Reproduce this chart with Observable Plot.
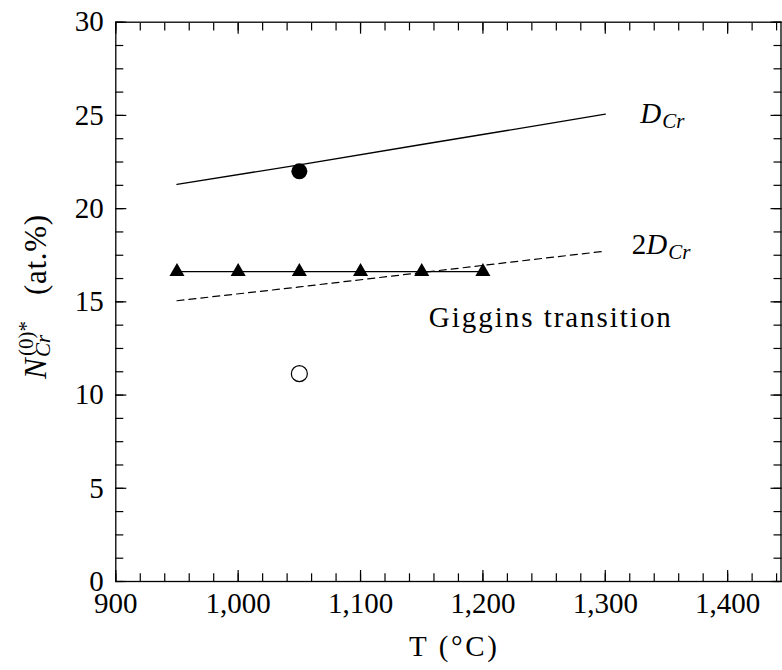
<!DOCTYPE html>
<html><head><meta charset="utf-8">
<script src="https://cdn.jsdelivr.net/npm/d3@7"></script>
<script src="https://cdn.jsdelivr.net/npm/@observablehq/plot@0.6"></script>
<style>
body{margin:0;background:#fff}
svg{display:block}
#chart svg, #chart svg text { font-family: "Liberation Serif", "DejaVu Serif", serif !important; }
</style>
</head><body><div id="chart"></div>
<script>
// D_Cr curve (solid)
const dcrT = [950, 1050, 1150, 1250, 1300];
const dcrN = [21.30, 22.35, 23.44, 24.52, 25.07];
// 2D_Cr curve (dashed)
const d2crT = [950, 1050, 1150, 1250, 1300];
const d2crN = [15.06, 15.80, 16.57, 17.34, 17.72];
// Giggins transition (triangles)
const gigT = [950, 1000, 1050, 1100, 1150, 1200];
const gigN = [16.62, 16.62, 16.62, 16.62, 16.62, 16.62];
// single points
const filledT = [1050];
const filledN = [22.0];
const openT = [1050];
const openN = [11.15];
// ticks
const xMajor = [900, 1000, 1100, 1200, 1300, 1400];
const xMinor = d3.range(900, 1441, 20);
const yMajor = [0, 5, 10, 15, 20, 25, 30];
const yMinor = d3.range(0, 30.01, 1.25);
// labels
const curveLabels = [
  {t: 1329, n: 24.57, pre: "", main: "D", sub: "Cr"},
  {t: 1322, n: 17.54, pre: "2", main: "D", sub: "Cr"}
];
const noteT = [1254.7];
const noteN = [14.14];
const noteText = ["Giggins transition"];
const xTitle = "T (°C)";
const yTitle = {main: "N", sub: "Cr", sup: "(0)*", unit: "(at.%)"};

const rows = (T, N) => T.map((t, i) => ({t, n: N[i]}));
const blank = () => "";
const FONT = "'Liberation Serif', 'DejaVu Serif', serif";

const plot = Plot.plot({
  width: 782,
  height: 670,
  marginLeft: 115.3,
  marginRight: 1.5,
  marginTop: 21.7,
  marginBottom: 89,
  style: {fontFamily: FONT, fontSize: "29px", color: "black", background: "white"},
  x: {domain: [900, 1443.6]},
  y: {domain: [0, 30]},
  marks: [
    Plot.axisX(xMinor, {anchor: "bottom", tickSize: -7.7, tickFormat: blank, label: null, strokeWidth: 1.2}),
    Plot.axisX(xMajor, {anchor: "bottom", tickSize: -11, tickFormat: blank, label: null, strokeWidth: 1.2}),
    Plot.axisX(xMinor, {anchor: "top", tickSize: -7.7, tickFormat: blank, label: null, strokeWidth: 1.2}),
    Plot.axisX(xMajor, {anchor: "top", tickSize: -11, tickFormat: blank, label: null, strokeWidth: 1.2}),
    Plot.axisY(yMinor, {anchor: "left", tickSize: -8, tickFormat: blank, label: null, strokeWidth: 1.2}),
    Plot.axisY(yMajor, {anchor: "left", tickSize: -11, tickFormat: blank, label: null, strokeWidth: 1.2}),
    Plot.axisY(yMinor, {anchor: "right", tickSize: -8, tickFormat: blank, label: null, strokeWidth: 1.2}),
    Plot.axisY(yMajor, {anchor: "right", tickSize: -11, tickFormat: blank, label: null, strokeWidth: 1.2}),
    Plot.axisX(xMajor, {anchor: "bottom", tickSize: 0, tickPadding: 11, tickFormat: d3.format(","), label: null, fontSize: 29}),
    Plot.axisY(yMajor, {anchor: "left", tickSize: 0, tickPadding: 12, tickFormat: d3.format("d"), label: null, fontSize: 29}),
    Plot.frame({stroke: "black", strokeWidth: 1.3}),
    Plot.line(rows(dcrT, dcrN), {x: "t", y: "n", stroke: "black", strokeWidth: 1.3}),
    Plot.line(rows(d2crT, d2crN), {x: "t", y: "n", stroke: "black", strokeWidth: 1.2, strokeDasharray: "7,5"}),
    Plot.line(rows(gigT, gigN), {x: "t", y: "n", stroke: "black", strokeWidth: 1.3}),
    Plot.dot(rows(gigT, gigN), {x: "t", y: "n", symbol: "triangle", r: 5.6, fill: "black", stroke: "none"}),
    Plot.dot(rows(filledT, filledN), {x: "t", y: "n", r: 8, fill: "black", stroke: "none"}),
    Plot.dot(rows(openT, openN), {x: "t", y: "n", r: 8, fill: "white", stroke: "black", strokeWidth: 1.2}),
    Plot.text(rows(noteT, noteN).map((d, i) => ({...d, s: noteText[i]})), {x: "t", y: "n", text: "s", fontSize: 29, fill: "black"})
  ]
});
document.getElementById("chart").appendChild(plot);

const svg = d3.select(plot);
const xs = plot.scale("x"), ys = plot.scale("y");

// widen the note text to the reference's (Computer Modern) width
svg.selectAll("g[aria-label='text'] text")
  .attr("textLength", 242).attr("lengthAdjust", "spacing");

for (const L of curveLabels) {
  const t = svg.append("text")
    .attr("x", xs.apply(L.t)).attr("y", ys.apply(L.n))
    .attr("text-anchor", "start")
    .attr("font-size", 29).attr("fill", "black");
  if (L.pre) t.append("tspan").text(L.pre);
  t.append("tspan").attr("font-style", "italic").text(L.main);
  t.append("tspan").attr("font-style", "italic").attr("font-size", 21).attr("dx", 1).attr("dy", 5).text(L.sub);
}

{
  const t = svg.append("text")
    .attr("transform", "translate(46,379) rotate(-90)")
    .attr("text-anchor", "start")
    .attr("font-size", 31).attr("fill", "black");
  t.append("tspan").attr("x", 0).attr("y", 0).attr("font-style", "italic").text(yTitle.main);
  t.append("tspan").attr("x", 22).attr("y", 4).attr("font-style", "italic").attr("font-size", 21).text(yTitle.sub);
  t.append("tspan").attr("x", 23).attr("y", -13).attr("font-size", 21).text(yTitle.sup);
  t.append("tspan").attr("x", 84).attr("y", 0).attr("textLength", 80).attr("lengthAdjust", "spacing").text(yTitle.unit);
}

svg.append("text")
  .attr("x", 453).attr("y", 656)
  .attr("text-anchor", "middle")
  .attr("font-size", 29).attr("fill", "black")
  .attr("textLength", 88).attr("lengthAdjust", "spacing")
  .text(xTitle);
</script>
</body></html>
